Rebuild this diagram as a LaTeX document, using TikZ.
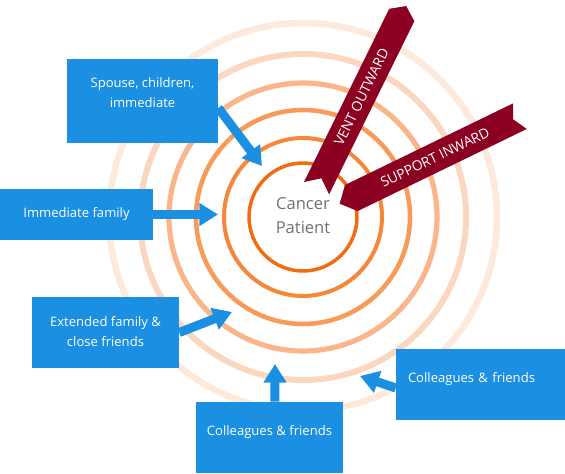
\documentclass[tikz,border=0pt]{standalone}
\usepackage{fontspec}
\setsansfont{Open Sans}
\usetikzlibrary{positioning,calc,arrows.meta}
\definecolor{boxblue}{HTML}{1B8FE2}
\definecolor{ribbonred}{HTML}{8C0022}
\definecolor{textgrey}{HTML}{707070}
\definecolor{ring1}{HTML}{F36B11}
\definecolor{ring2}{HTML}{F6873A}
\definecolor{ring3}{HTML}{F89A58}
\definecolor{ring4}{HTML}{FAB68A}
\definecolor{ring5}{HTML}{FCD7C0}
\definecolor{ring6}{HTML}{FDEADD}
\begin{document}
\begin{tikzpicture}[x=0.75pt,y=0.75pt,
        box/.style={fill=boxblue,text=white,align=center,inner sep=0pt,font=\sffamily\fontsize{9.8}{15}\selectfont},
        push/.style={draw=boxblue,line width=6.75pt,-{Triangle[length=14pt,width=16.5pt]}},
        tag/.style={text=white,inner sep=0pt,font=\sffamily\fontsize{10.4}{12}\selectfont}]
   \useasboundingbox (0,0) rectangle (565,474);
   \coordinate (c) at (303,257);
   \foreach \r/\w/\col in {194/4.9pt/ring6,163/4.5pt/ring5,134/3.9pt/ring4,107/3.4pt/ring3,79/3pt/ring2,54/2.6pt/ring1}
      \draw[\col,line width=\w] (c) circle (\r);
   \node (pat) at (303,258) [text=textgrey,align=center,font=\sffamily\fontsize{12.4}{18}\selectfont] {Cancer\\Patient};
   \node (spouse) [box,minimum width=113.25pt,minimum height=63pt,text depth=12pt] at (142.5,373) {Spouse, children,\\immediate};
   \node (immfam) [box,minimum width=114.75pt,minimum height=38.25pt] at (76.5,259.5) {Immediate family};
   \node (extfam) [box,minimum width=110.25pt,minimum height=53.25pt,text depth=2pt] at (105.5,141.5) {Extended family \&\\close friends};
   \node (colbot) [box,minimum width=110.25pt,minimum height=53.25pt,text depth=11pt] at (269.5,36.5) {Colleagues \& friends};
   \node (colright) [box,minimum width=126.75pt,minimum height=53.25pt,text depth=11pt,text width=108.75pt,align=left] at (480.5,89.5) {Colleagues \& friends};
   \coordinate (t1) at (262,308);
   \coordinate (t2) at (218,259.5);
   \coordinate (t3) at (232,162);
   \coordinate (t4) at (275,110);
   \coordinate (t5) at (360,98);
   \draw[push] ([yshift=-5.25pt]spouse.east) -- (t1);
   \draw[push] (immfam.east) -- (t2);
   \draw[push] (extfam.east) -- (t3);
   \draw[push] ([xshift=4.1pt]colbot.north) -- (t4);
   \draw[push] ([yshift=-2.6pt]colright.west) -- (t5);
   \begin{scope}[shift={(304,292)},rotate=63.8]
      \fill[ribbonred] (0,0) -- (11,-14) -- (0,-28) -- (193,-28) -- (203,-14) -- (193,0) -- cycle;
      \node (vent) [tag,rotate=63.8] at (101.5,-14) {VENT OUTWARD};
   \end{scope}
   \begin{scope}[shift={(345,289)},rotate=25.9]
      \fill[ribbonred] (0,0) -- (187,0) -- (180,-14.5) -- (188,-29) -- (0,-29) -- (-13,-14.5) -- cycle;
      \node (support) [tag,rotate=25.9] at (93,-14.5) {SUPPORT INWARD};
   \end{scope}
\end{tikzpicture}
\end{document}
